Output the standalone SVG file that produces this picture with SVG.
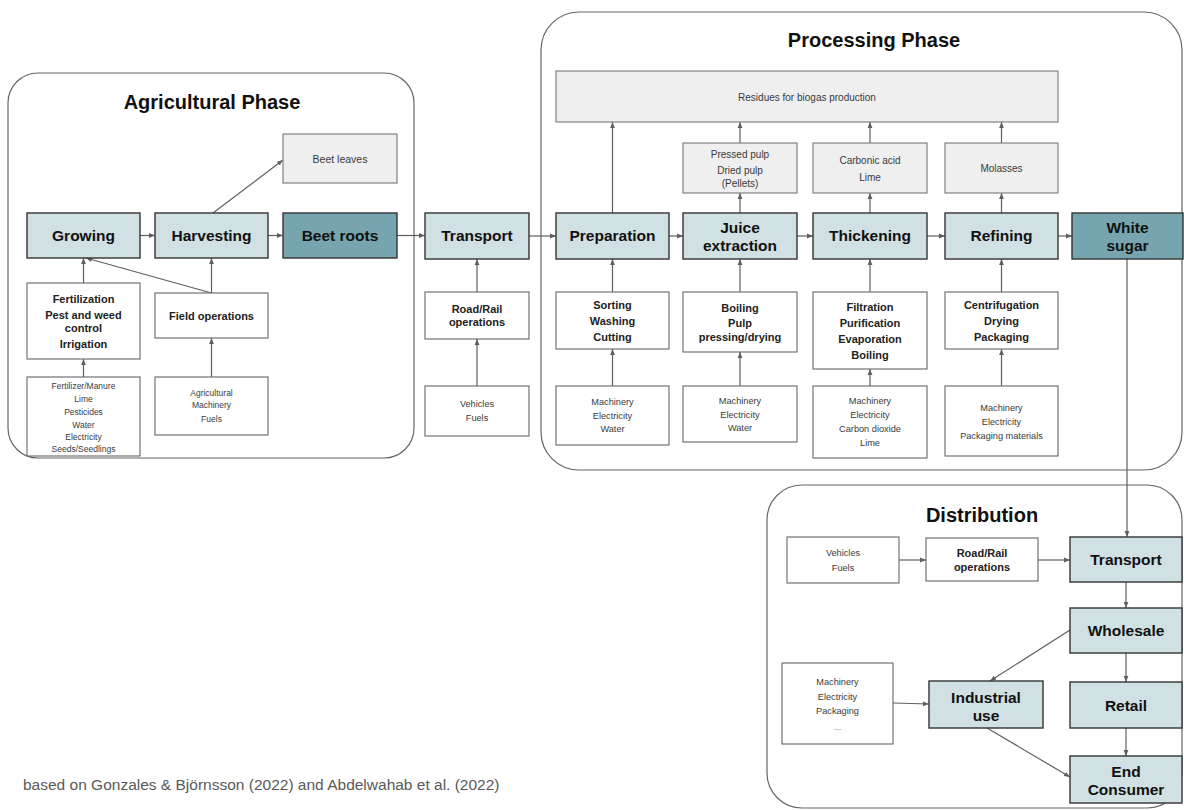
<svg xmlns="http://www.w3.org/2000/svg" width="1184" height="810" viewBox="0 0 1184 810">
  <style>
    .phase { fill: #ffffff; stroke: #666666; stroke-width: 1.2; }
    .phase-title { font-family: "Liberation Sans", Arial, sans-serif; font-weight: bold; font-size: 20px; fill: #111; text-anchor: middle; }
    .step { fill: #d0e0e3; stroke: #333333; stroke-width: 1.4; }
    .prod { fill: #76a5af; stroke: #333333; stroke-width: 1.4; }
    .activity { fill: #ffffff; stroke: #666666; stroke-width: 1.1; }
    .output { fill: #efefef; stroke: #777777; stroke-width: 1.1; }
    .lbl { font-family: "Liberation Sans", Arial, sans-serif; font-weight: bold; font-size: 15.5px; fill: #111; text-anchor: middle; }
    .act { font-family: "Liberation Sans", Arial, sans-serif; font-weight: bold; font-size: 11px; fill: #222; text-anchor: middle; }
    .inp { font-family: "Liberation Sans", Arial, sans-serif; font-size: 9.2px; fill: #3a3a3a; text-anchor: middle; }
    .inp-s { font-family: "Liberation Sans", Arial, sans-serif; font-size: 8.5px; fill: #3a3a3a; text-anchor: middle; }
    .out { font-family: "Liberation Sans", Arial, sans-serif; font-size: 10px; fill: #3a3a3a; text-anchor: middle; }
    .conn path { fill: none; stroke: #5f5f5f; stroke-width: 1.2; marker-end: url(#ah); }
    .note { font-family: "Liberation Sans", Arial, sans-serif; font-size: 15.5px; fill: #595959; }
  </style>
  <defs>
    <marker id="ah" viewBox="0 0 10 10" refX="10" refY="5" markerWidth="6" markerHeight="6" markerUnits="userSpaceOnUse" orient="auto">
      <path d="M0,1 L10,5 L0,9 z" fill="#5f5f5f"/>
    </marker>
  </defs>

  <rect width="1184" height="810" fill="#ffffff"/>

  <!-- phase containers -->
  <g id="phase-agri">
    <rect class="phase" x="8" y="73" width="406" height="385" rx="30"/>
    <text class="phase-title" x="212" y="109">Agricultural Phase</text>
  </g>
  <g id="phase-processing">
    <rect class="phase" x="541" y="12" width="641" height="458" rx="38"/>
    <text class="phase-title" x="874" y="47">Processing Phase</text>
  </g>
  <g id="phase-distribution">
    <rect class="phase" x="767" y="485" width="415" height="323" rx="35"/>
    <text class="phase-title" x="982" y="522">Distribution</text>
  </g>

  <!-- connectors -->
  <g id="connectors" class="conn">
    <path d="M140,235.5 H155"/>
    <path d="M268,235.5 H283"/>
    <path d="M397,235.5 H425"/>
    <path d="M529,236 H556"/>
    <path d="M669,236 H683"/>
    <path d="M797,236 H813"/>
    <path d="M927,236 H945"/>
    <path d="M1058,236 H1072"/>
    <path d="M213,213 L283,160"/>
    <path d="M211.5,293 V258"/>
    <path d="M211.5,293 L86,258"/>
    <path d="M83.5,283 V258"/>
    <path d="M83.5,377 V359"/>
    <path d="M211.5,377 V338"/>
    <path d="M477,292 V259"/>
    <path d="M477,386 V339"/>
    <path d="M612.5,292 V259"/>
    <path d="M612.5,386 V349"/>
    <path d="M740,292 V259"/>
    <path d="M740,386 V352"/>
    <path d="M870,292 V259"/>
    <path d="M870,386 V369"/>
    <path d="M1001.5,292 V259"/>
    <path d="M1001.5,386 V349"/>
    <path d="M612.5,213 V122"/>
    <path d="M740,213 V193"/>
    <path d="M740,143 V122"/>
    <path d="M870,213 V193"/>
    <path d="M870,143 V122"/>
    <path d="M1001.5,213 V193"/>
    <path d="M1001.5,143 V122"/>
    <path d="M1127,259 V537"/>
    <path d="M899,560 H926"/>
    <path d="M1038,560 H1070"/>
    <path d="M1126,582 V608"/>
    <path d="M1126,653 V682"/>
    <path d="M1126,728 V756"/>
    <path d="M1070,630 L990,681"/>
    <path d="M987,728 L1070,777"/>
    <path d="M893,703 L929,704"/>
  </g>

  <!-- agricultural phase -->
  <g id="growing"><rect class="step" x="27" y="213" width="113" height="45"/><text class="lbl" x="83.5" y="241">Growing</text></g>
  <g id="harvesting"><rect class="step" x="155" y="213" width="113" height="45"/><text class="lbl" x="211.5" y="241">Harvesting</text></g>
  <g id="beet-roots"><rect class="prod" x="283" y="213" width="114" height="45"/><text class="lbl" x="340" y="241">Beet roots</text></g>
  <g id="beet-leaves"><rect class="output" x="283" y="134" width="114" height="49"/><text class="out" x="340" y="162.5" style="font-size:10.5px">Beet leaves</text></g>
  <g id="cultivation">
    <rect class="activity" x="27" y="283" width="113" height="76"/>
    <text class="act" x="83.5" y="303">Fertilization</text>
    <text class="act" x="83.5" y="319">Pest and weed</text>
    <text class="act" x="83.5" y="332">control</text>
    <text class="act" x="83.5" y="348">Irrigation</text>
  </g>
  <g id="field-ops"><rect class="activity" x="155" y="293" width="113" height="45"/><text class="act" x="211.5" y="319.5">Field operations</text></g>
  <g id="agri-inputs">
    <rect class="activity" x="27" y="377" width="113" height="79"/>
    <text class="inp-s" x="83.5" y="389">Fertilizer/Manure</text>
    <text class="inp-s" x="83.5" y="402">Lime</text>
    <text class="inp-s" x="83.5" y="415">Pesticides</text>
    <text class="inp-s" x="83.5" y="428">Water</text>
    <text class="inp-s" x="83.5" y="440">Electricity</text>
    <text class="inp-s" x="83.5" y="452">Seeds/Seedlings</text>
  </g>
  <g id="field-inputs">
    <rect class="activity" x="155" y="377" width="113" height="58"/>
    <text class="inp-s" x="211.5" y="396">Agricultural</text>
    <text class="inp-s" x="211.5" y="408">Machinery</text>
    <text class="inp-s" x="211.5" y="422">Fuels</text>
  </g>

  <!-- transport to factory -->
  <g id="transport"><rect class="step" x="425" y="213" width="104" height="46"/><text class="lbl" x="477" y="241">Transport</text></g>
  <g id="road-rail">
    <rect class="activity" x="425" y="292" width="104" height="47"/>
    <text class="act" x="477" y="313">Road/Rail</text>
    <text class="act" x="477" y="326">operations</text>
  </g>
  <g id="vehicles">
    <rect class="activity" x="425" y="386" width="104" height="50"/>
    <text class="inp" x="477" y="407">Vehicles</text>
    <text class="inp" x="477" y="421">Fuels</text>
  </g>

  <!-- processing phase -->
  <g id="residues"><rect class="output" x="556" y="71" width="502" height="51"/><text class="out" x="807" y="100.5">Residues for biogas production</text></g>
  <g id="pulp">
    <rect class="output" x="683" y="143" width="114" height="50"/>
    <text class="out" x="740" y="157.5">Pressed pulp</text>
    <text class="out" x="740" y="173.5">Dried pulp</text>
    <text class="out" x="740" y="186.5">(Pellets)</text>
  </g>
  <g id="carbonic">
    <rect class="output" x="813" y="143" width="114" height="50"/>
    <text class="out" x="870" y="163.5">Carbonic acid</text>
    <text class="out" x="870" y="180.5">Lime</text>
  </g>
  <g id="molasses"><rect class="output" x="945" y="143" width="113" height="50"/><text class="out" x="1001.5" y="171.5">Molasses</text></g>

  <g id="preparation"><rect class="step" x="556" y="213" width="113" height="46"/><text class="lbl" x="612.5" y="241">Preparation</text></g>
  <g id="juice">
    <rect class="step" x="683" y="213" width="114" height="46"/>
    <text class="lbl" x="740" y="232.5">Juice</text>
    <text class="lbl" x="740" y="250.5">extraction</text>
  </g>
  <g id="thickening"><rect class="step" x="813" y="213" width="114" height="46"/><text class="lbl" x="870" y="241">Thickening</text></g>
  <g id="refining"><rect class="step" x="945" y="213" width="113" height="46"/><text class="lbl" x="1001.5" y="241">Refining</text></g>
  <g id="white-sugar">
    <rect class="prod" x="1072" y="213" width="111" height="46"/>
    <text class="lbl" x="1127.5" y="232.5">White</text>
    <text class="lbl" x="1127.5" y="250.5">sugar</text>
  </g>

  <g id="prep-steps">
    <rect class="activity" x="556" y="292" width="113" height="57"/>
    <text class="act" x="612.5" y="309">Sorting</text>
    <text class="act" x="612.5" y="325">Washing</text>
    <text class="act" x="612.5" y="341">Cutting</text>
  </g>
  <g id="juice-steps">
    <rect class="activity" x="683" y="292" width="114" height="60"/>
    <text class="act" x="740" y="312">Boiling</text>
    <text class="act" x="740" y="327">Pulp</text>
    <text class="act" x="740" y="341">pressing/drying</text>
  </g>
  <g id="thick-steps">
    <rect class="activity" x="813" y="292" width="114" height="77"/>
    <text class="act" x="870" y="311">Filtration</text>
    <text class="act" x="870" y="327">Purification</text>
    <text class="act" x="870" y="343">Evaporation</text>
    <text class="act" x="870" y="359">Boiling</text>
  </g>
  <g id="refine-steps">
    <rect class="activity" x="945" y="292" width="113" height="57"/>
    <text class="act" x="1001.5" y="309">Centrifugation</text>
    <text class="act" x="1001.5" y="325">Drying</text>
    <text class="act" x="1001.5" y="341">Packaging</text>
  </g>

  <g id="prep-inputs">
    <rect class="activity" x="556" y="386" width="113" height="59"/>
    <text class="inp" x="612.5" y="405">Machinery</text>
    <text class="inp" x="612.5" y="419">Electricity</text>
    <text class="inp" x="612.5" y="432">Water</text>
  </g>
  <g id="juice-inputs">
    <rect class="activity" x="683" y="386" width="114" height="56"/>
    <text class="inp" x="740" y="404">Machinery</text>
    <text class="inp" x="740" y="418">Electricity</text>
    <text class="inp" x="740" y="431">Water</text>
  </g>
  <g id="thick-inputs">
    <rect class="activity" x="813" y="386" width="114" height="72"/>
    <text class="inp" x="870" y="404">Machinery</text>
    <text class="inp" x="870" y="418">Electricity</text>
    <text class="inp" x="870" y="432">Carbon dioxide</text>
    <text class="inp" x="870" y="446">Lime</text>
  </g>
  <g id="refine-inputs">
    <rect class="activity" x="945" y="386" width="113" height="70"/>
    <text class="inp" x="1001.5" y="411">Machinery</text>
    <text class="inp" x="1001.5" y="425">Electricity</text>
    <text class="inp" x="1001.5" y="439">Packaging materials</text>
  </g>

  <!-- distribution -->
  <g id="dist-vehicles">
    <rect class="activity" x="787" y="537" width="112" height="46"/>
    <text class="inp" x="843" y="556">Vehicles</text>
    <text class="inp" x="843" y="571">Fuels</text>
  </g>
  <g id="dist-road-rail">
    <rect class="activity" x="926" y="538" width="112" height="43"/>
    <text class="act" x="982" y="557">Road/Rail</text>
    <text class="act" x="982" y="571">operations</text>
  </g>
  <g id="dist-transport"><rect class="step" x="1070" y="537" width="112" height="45"/><text class="lbl" x="1126" y="565">Transport</text></g>
  <g id="wholesale"><rect class="step" x="1070" y="608" width="112" height="45"/><text class="lbl" x="1126" y="636">Wholesale</text></g>
  <g id="retail"><rect class="step" x="1070" y="682" width="112" height="46"/><text class="lbl" x="1126" y="710.5">Retail</text></g>
  <g id="end-consumer">
    <rect class="step" x="1070" y="756" width="112" height="47"/>
    <text class="lbl" x="1126" y="776.5">End</text>
    <text class="lbl" x="1126" y="794.5">Consumer</text>
  </g>
  <g id="industrial">
    <rect class="step" x="929" y="681" width="114" height="47"/>
    <text class="lbl" x="986" y="702.5">Industrial</text>
    <text class="lbl" x="986" y="720.5">use</text>
  </g>
  <g id="industrial-inputs">
    <rect class="activity" x="782" y="663" width="111" height="81"/>
    <text class="inp" x="837.5" y="685">Machinery</text>
    <text class="inp" x="837.5" y="700">Electricity</text>
    <text class="inp" x="837.5" y="714">Packaging</text>
    <text class="inp" x="837.5" y="730" style="fill:#888">...</text>
  </g>

  <text class="note" x="23" y="790">based on Gonzales &amp; Björnsson (2022) and Abdelwahab et al. (2022)</text>
</svg>
